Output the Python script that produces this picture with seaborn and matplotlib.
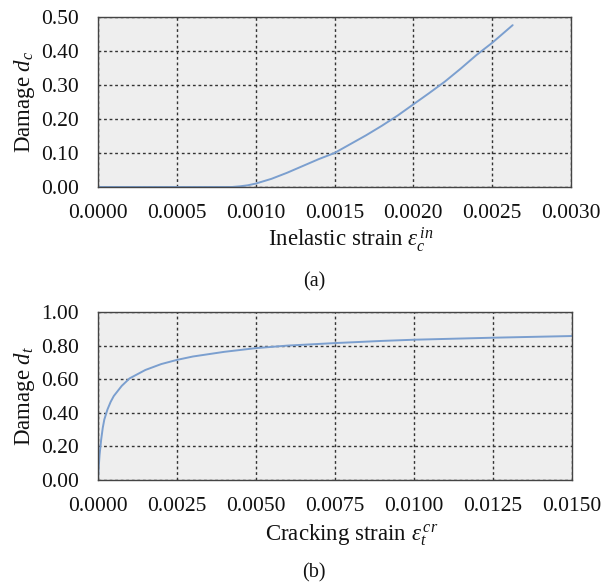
import matplotlib
matplotlib.use("Agg")
import matplotlib.pyplot as plt
import seaborn as sns
import pandas as pd
from matplotlib.ticker import FormatStrFormatter

# Compressive damage data (a)
strain_c = [0.0, 0.0002, 0.0004, 0.0006, 0.0008, 0.00085, 0.0009, 0.00095, 0.0010, 0.00110,
            0.00120, 0.00130, 0.00140, 0.00150, 0.00160, 0.00170, 0.00180, 0.00190,
            0.00200, 0.00210, 0.00220, 0.00230, 0.00240, 0.00250, 0.00263]
damage_c = [0.0, 0.0, 0.0, 0.0, 0.0, 0.0, 0.002, 0.005, 0.010, 0.024,
            0.042, 0.062, 0.082, 0.100, 0.126, 0.152, 0.180, 0.210,
            0.243, 0.276, 0.310, 0.348, 0.388, 0.424, 0.476]

# Tensile damage data (b)
strain_t = [0.0, 0.00002, 0.00005, 0.0001, 0.00015, 0.0002, 0.0003, 0.0004, 0.0005, 0.00075,
            0.0010, 0.0015, 0.0020, 0.0025, 0.0030, 0.0040, 0.0050, 0.0060, 0.0075,
            0.0090, 0.0100, 0.0125, 0.0150]
damage_t = [0.0, 0.07, 0.15, 0.24, 0.31, 0.36, 0.42, 0.465, 0.50, 0.56,
            0.605, 0.655, 0.69, 0.715, 0.735, 0.763, 0.785, 0.800, 0.815,
            0.828, 0.835, 0.847, 0.857]

xticks_a = [0.0, 0.0005, 0.0010, 0.0015, 0.0020, 0.0025, 0.0030]
yticks_a = [0.0, 0.1, 0.2, 0.3, 0.4, 0.5]
xticks_b = [0.0, 0.0025, 0.0050, 0.0075, 0.0100, 0.0125, 0.0150]
yticks_b = [0.0, 0.2, 0.4, 0.6, 0.8, 1.0]

sns.set_theme(style="white")
plt.rcParams['font.family'] = ['Liberation Serif', 'DejaVu Serif']
plt.rcParams['mathtext.fontset'] = 'custom'
plt.rcParams['mathtext.rm'] = 'Liberation Serif'
plt.rcParams['mathtext.it'] = 'Liberation Serif:italic'

line_color = '#7b9fcf'
bg = '#eeeeee'

W, H = 614.0, 585.0
fig = plt.figure(figsize=(6.14, 5.85), dpi=100)
# axes boxes in pixels: left, top, right, bottom
ax1 = fig.add_axes([98 / W, 1 - 187 / H, (571 - 98) / W, (187 - 17) / H])
ax2 = fig.add_axes([98 / W, 1 - 480 / H, (572 - 98) / W, (480 - 312) / H])

df_a = pd.DataFrame({'x': strain_c, 'y': damage_c})
df_b = pd.DataFrame({'x': strain_t, 'y': damage_t})

sns.lineplot(data=df_a, x='x', y='y', ax=ax1, color=line_color, linewidth=1.4)
sns.lineplot(data=df_b, x='x', y='y', ax=ax2, color=line_color, linewidth=1.4)

configs = [
    (ax1, xticks_a, yticks_a, r'Inelastic strain $\varepsilon_c^{\,in}$', r'Damage $d_c$',
     '(a)', 240, 282, 187, 17),
    (ax2, xticks_b, yticks_b, r'Cracking strain $\varepsilon_t^{\,cr}$', r'Damage $d_t$',
     '(b)', 535, 573, 480, 312),
]
for ax, xt, yt, xl, yl, tag, xl_y, tag_y, bot, top in configs:
    ax.set_facecolor(bg)
    ax.set_xlim(xt[0], xt[-1])
    ax.set_ylim(yt[0], yt[-1])
    ax.set_xticks(xt)
    ax.set_yticks(yt)
    ax.xaxis.set_major_formatter(FormatStrFormatter('%.4f'))
    ax.yaxis.set_major_formatter(FormatStrFormatter('%.2f'))
    ax.grid(True, color='#333333', linestyle=(0, (2, 2)), linewidth=1.0)
    ax.set_axisbelow(True)
    for s in ax.spines.values():
        s.set_color('#444444')
        s.set_linewidth(1.0)
    ax.tick_params(axis='x', labelsize=15.5, length=0, pad=12, colors='#111111')
    ax.tick_params(axis='y', labelsize=15.5, length=0, pad=13.5, colors='#111111')
    ax.set_xlabel(xl, fontsize=16.5, color='#111111')
    ax.set_ylabel(yl, fontsize=16.5, color='#111111')
    hgt = bot - top
    ax.xaxis.set_label_coords(0.535, -(xl_y - bot) / hgt)
    ax.xaxis.label.set_va('center')
    ax.yaxis.set_label_coords((25 - 98) / 473.0, 0.5)
    ax.yaxis.label.set_va('center')
    ax.yaxis.label.set_ha('center')
    fig.text(314 / W, 1 - tag_y / H, tag, ha='center', va='center', fontsize=14.5, color='#111111')

fig.savefig('out.png', dpi=100, facecolor='white')
